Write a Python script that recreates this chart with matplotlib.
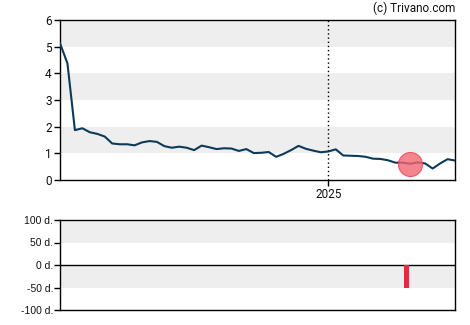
import matplotlib
matplotlib.use("Agg")
import matplotlib.pyplot as plt
import pandas as pd
import numpy as np

plt.rcParams['font.family'] = ['Roboto', 'DejaVu Sans']

start_date = '2023-08-16'
n_points = 54
values = [5.13, 4.37, 1.87, 1.94, 1.79, 1.73, 1.63, 1.37, 1.34, 1.34,
          1.30, 1.41, 1.46, 1.43, 1.27, 1.21, 1.25, 1.21, 1.12, 1.29,
          1.23, 1.16, 1.19, 1.18, 1.09, 1.16, 1.01, 1.02, 1.05, 0.87,
          0.98, 1.12, 1.28, 1.17, 1.10, 1.04, 1.07, 1.15, 0.92, 0.91,
          0.90, 0.87, 0.80, 0.79, 0.74, 0.65, 0.65, 0.61, 0.66, 0.62,
          0.43, 0.62, 0.78, 0.73]
dates = pd.date_range(start=start_date, periods=n_points, freq='14D')

marker_index = 47
year_line = pd.Timestamp('2025-01-01')
xtick_labels = ['2025']

bar_dates = [pd.Timestamp('2025-05-28')]
bar_values = [-50]

y_ticks_top = [0, 1, 2, 3, 4, 5, 6]
y_ticks_bottom = [-100, -50, 0, 50, 100]
y_labels_bottom = ['-100 d.', '-50 d.', '0 d.', '50 d.', '100 d.']

W, H = 470, 325
fig = plt.figure(figsize=(W / 100, H / 100), dpi=100)

ax = fig.add_axes([60 / W, 1 - 180 / H, 395 / W, 160 / H])
ax2 = fig.add_axes([60 / W, 1 - 310 / H, 395 / W, 90 / H])

band = '#eeeeee'
for lo in [1, 3, 5]:
    ax.axhspan(lo, lo + 1, color=band, lw=0, zorder=0)
for lo in [50, -50]:
    ax2.axhspan(lo, lo + 50, color=band, lw=0, zorder=0)

ax.plot(dates, values, color='#0d3a58', lw=1.5, zorder=3)
ax.scatter([dates[marker_index]], [values[marker_index]], s=300,
           color='#f26672', alpha=0.8, edgecolors='#e84450', linewidths=0.8, zorder=4)
ax.axvline(year_line, color='black', lw=1, ls=(0, (1, 2)), zorder=2)

ax.set_xlim(dates[0], dates[-1])
ax.set_ylim(0, 6)
ax.set_yticks(y_ticks_top)
ax.set_xticks([year_line])
ax.set_xticklabels(xtick_labels)

ax2.bar(bar_dates, bar_values, width=8, color='#e8283c', zorder=3)
ax2.axhline(0, color='black', lw=1, zorder=2)
ax2.set_xlim(dates[0], dates[-1])
ax2.set_ylim(-100, 100)
ax2.set_yticks(y_ticks_bottom)
ax2.set_yticklabels(y_labels_bottom)
ax2.set_xticks([])

for a in (ax, ax2):
    for s in a.spines.values():
        s.set_color('black')
        s.set_linewidth(1)
    a.tick_params(axis='both', length=4, width=1, color='black',
                  labelsize=8.5, pad=2, labelcolor='#111111')

ax2.tick_params(axis='y', labelsize=7.5, pad=1)
for lbl in ax2.get_yticklabels():
    lbl.set_family(['Liberation Sans', 'DejaVu Sans'])

fig.text(455 / W, 1 - 8 / H, '(c) Trivano.com', ha='right', va='center',
         fontsize=8.5, color='#111111')

fig.savefig('out.png', dpi=100)
